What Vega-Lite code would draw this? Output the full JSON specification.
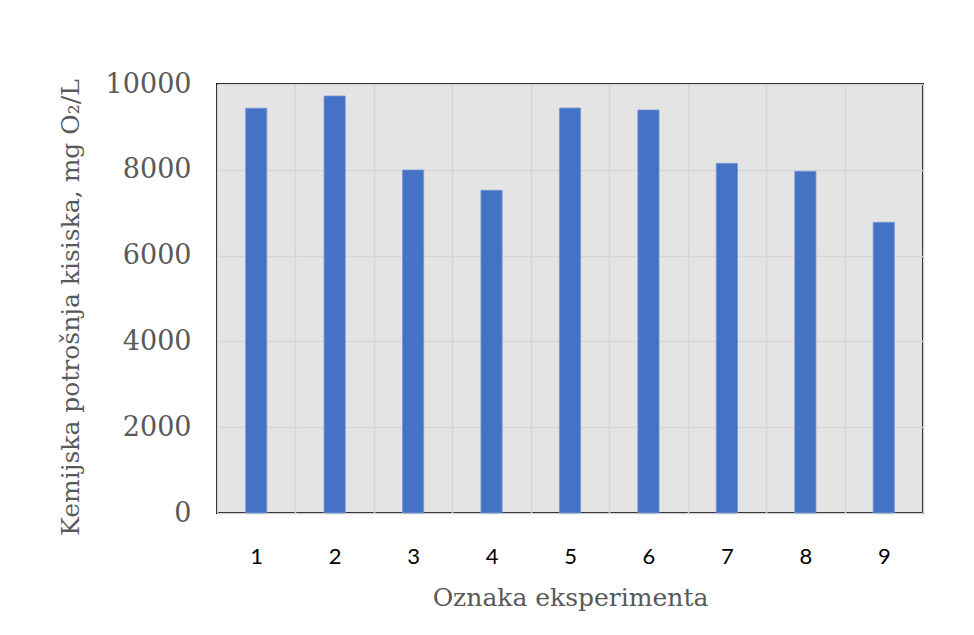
{
  "$schema": "https://vega.github.io/schema/vega-lite/v6.json",
  "width": 706,
  "height": 429,
  "autosize": {"type": "none"},
  "padding": {"left": 217, "top": 84, "right": 51, "bottom": 122},
  "background": "white",
  "config": {
    "view": {"fill": "#e4e4e4", "stroke": "#000000", "strokeWidth": 2}
  },
  "data": {
    "values": [
      {"oznaka": "1", "kpk": 9434},
      {"oznaka": "2", "kpk": 9720},
      {"oznaka": "3", "kpk": 7995},
      {"oznaka": "4", "kpk": 7522},
      {"oznaka": "5", "kpk": 9440},
      {"oznaka": "6", "kpk": 9394},
      {"oznaka": "7", "kpk": 8151},
      {"oznaka": "8", "kpk": 7965},
      {"oznaka": "9", "kpk": 6776}
    ]
  },
  "mark": {"type": "bar", "color": "#4472c4", "stroke": "#7396d6", "strokeWidth": 0.8, "width": {"band": 0.27}},
  "encoding": {
    "x": {
      "field": "oznaka",
      "type": "ordinal",
      "scale": {"paddingInner": 0, "paddingOuter": 0},
      "axis": {
        "title": "Oznaka eksperimenta",
        "titleFont": "DejaVu Serif",
        "titleFontSize": 25,
        "titleFontWeight": "normal",
        "titleColor": "#595959",
        "titlePadding": 18,
        "labelAngle": 0,
        "labelFont": "Lato",
        "labelFontSize": 22,
        "labelColor": "#000000",
        "labelPadding": 33,
        "ticks": false,
        "domain": false,
        "grid": true,
        "tickBand": "extent",
        "gridColor": "#d6d6d6",
        "gridWidth": 1.5
      }
    },
    "y": {
      "field": "kpk",
      "type": "quantitative",
      "scale": {"domain": [0, 10000], "nice": false},
      "axis": {
        "title": "Kemijska potrošnja kisiska, mg O₂/L",
        "titleFont": "DejaVu Serif",
        "titleFontSize": 25,
        "titleFontWeight": "normal",
        "titleColor": "#595959",
        "titlePadding": 22,
        "titleY": 223,
        "values": [0, 2000, 4000, 6000, 8000, 10000],
        "format": "d",
        "labelFont": "DejaVu Serif",
        "labelFontSize": 27,
        "labelColor": "#595959",
        "labelPadding": 26,
        "ticks": false,
        "domain": false,
        "grid": true,
        "gridColor": "#d6d6d6",
        "gridWidth": 1.5
      }
    }
  }
}
